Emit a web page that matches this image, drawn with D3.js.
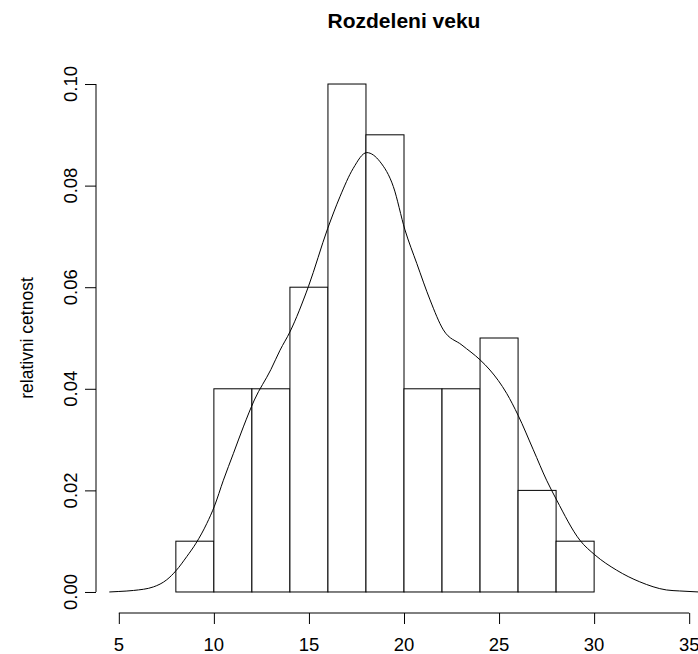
<!DOCTYPE html>
<html>
<head>
<meta charset="utf-8">
<script src="https://cdn.jsdelivr.net/npm/d3@7"></script>
<style>
  body { margin: 0; background: #fff; }
  svg { display: block; font-family: "Liberation Sans", Arial, sans-serif; }
</style>
</head>
<body>
<div id="main"></div>
<script>
// histogram: left break of each bin (width 2) and its relative frequency
const binStarts = [8, 10, 12, 14, 16, 18, 20, 22, 24, 26, 28];
const binWidth = 2;
const relFreq = [0.01, 0.04, 0.04, 0.06, 0.10, 0.09, 0.04, 0.04, 0.05, 0.02, 0.01];

// kernel density curve
const densX = [4.5, 5.0, 5.77, 6.82, 7.52, 8.01, 8.58, 9.06, 9.63, 10.03, 10.5, 11.03, 11.55, 12.13,
  13.0, 13.48, 14.0, 14.97, 15.99, 16.63, 17.33, 18.04, 18.74, 19.44, 20.05, 20.67, 21.37, 22.07,
  23.05, 24.0, 24.52, 25.4, 26.0, 26.8, 27.5, 28.03, 29.25, 30.04, 31.18, 32.4, 33.8, 34.5, 35.5];
const densY = [0.0, 0.0001, 0.0003, 0.0010, 0.0024, 0.0042, 0.0070, 0.0096, 0.0135, 0.0169, 0.0220, 0.0273, 0.0325, 0.0378,
  0.0438, 0.0476, 0.0512, 0.0601, 0.0716, 0.0778, 0.0834, 0.0865, 0.0847, 0.0798, 0.0713, 0.0647, 0.0575, 0.0516,
  0.0486, 0.0457, 0.0437, 0.0391, 0.0348, 0.0280, 0.0220, 0.0181, 0.0102, 0.0073, 0.0043, 0.0020, 0.0004, 0.0002, 0.0];

const xTicks = [5, 10, 15, 20, 25, 30, 35];
const yTicks = [0, 0.02, 0.04, 0.06, 0.08, 0.10];

const title = "Rozdeleni veku";
const yLabel = "relativni cetnost";

const width = 698, height = 654;

const svg = d3.select("#main").append("svg")
  .attr("width", width)
  .attr("height", height);

// R style plot region: limits widened by 4%
const x = d3.scaleLinear().domain([3.8, 36.2]).range([96, 712]);
const y = d3.scaleLinear().domain([-0.004, 0.104]).range([612.3, 63.7]);

//Drawing bars.
svg.append("g").selectAll("rect").data(binStarts)
  .enter().append("rect")
  .attr("x", d => x(d))
  .attr("y", (d, i) => y(relFreq[i]))
  .attr("width", d => x(d + binWidth) - x(d))
  .attr("height", (d, i) => y(0) - y(relFreq[i]))
  .attr("fill", "#fff")
  .attr("stroke", "#000")
  .attr("stroke-width", 1);

//Drawing density curve.
const line = d3.line()
  .x(d => x(d[0]))
  .y(d => y(d[1]))
  .curve(d3.curveMonotoneX);

svg.append("path")
  .datum(densX.map((v, i) => [v, densY[i]]))
  .attr("d", line)
  .attr("fill", "none")
  .attr("stroke", "#000")
  .attr("stroke-width", 1);

//Axes: line only spans first to last tick, like R.
const xAxis = svg.append("g")
  .attr("transform", "translate(0,613)")
  .call(d3.axisBottom(x).tickValues(xTicks).tickSize(11).tickSizeOuter(0).tickFormat(""));
xAxis.select(".domain").attr("d", "M" + x(xTicks[0]) + ",0H" + x(xTicks[xTicks.length - 1]));

const yAxis = svg.append("g")
  .attr("transform", "translate(96,0)")
  .call(d3.axisLeft(y).tickValues(yTicks).tickSize(11).tickSizeOuter(0).tickFormat(""));
yAxis.select(".domain").attr("d", "M0," + y(yTicks[0]) + "V" + y(yTicks[yTicks.length - 1]));

svg.selectAll(".domain, .tick line").attr("stroke", "#000");

svg.append("g").selectAll("text").data(xTicks)
  .enter().append("text")
  .attr("x", d => x(d))
  .attr("y", 651)
  .attr("text-anchor", "middle")
  .attr("font-size", 18.5)
  .text(d => d);

svg.append("g").selectAll("text").data(yTicks)
  .enter().append("text")
  .attr("transform", d => "translate(77," + y(d) + ") rotate(-90)")
  .attr("text-anchor", "middle")
  .attr("font-size", 18.5)
  .text(d => d3.format(".2f")(d));

svg.append("text")
  .attr("x", 404)
  .attr("y", 28)
  .attr("text-anchor", "middle")
  .attr("font-size", 21)
  .attr("font-weight", "bold")
  .text(title);

svg.append("text")
  .attr("transform", "translate(33," + 338 + ") rotate(-90)")
  .attr("text-anchor", "middle")
  .attr("font-size", 17.5)
  .text(yLabel);
</script>
</body>
</html>
